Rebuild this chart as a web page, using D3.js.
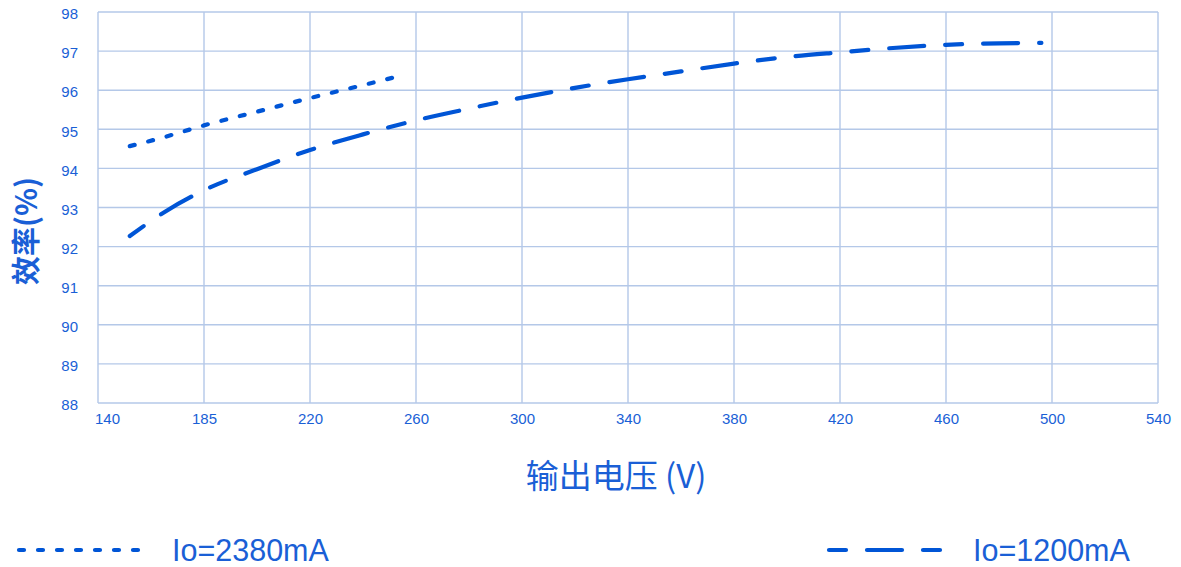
<!DOCTYPE html>
<html><head><meta charset="utf-8">
<script src="https://cdn.jsdelivr.net/npm/d3@7"></script>
<style>
html,body{margin:0;padding:0;background:#fff;}
svg{display:block;}
</style></head>
<body>
<svg id="chart" width="1181" height="567"></svg>
<script>
// ---- data ----
const xTickValues = [140, 180, 220, 260, 300, 340, 380, 420, 460, 500, 540];
const xTickLabels = ["140", "185", "220", "260", "300", "340", "380", "420", "460", "500", "540"];
const yTickValues = [88, 89, 90, 91, 92, 93, 94, 95, 96, 97, 98];

const s2380_x = [152, 165, 180, 200, 220, 240, 253];
const s2380_y = [94.57, 94.80, 95.10, 95.45, 95.80, 96.13, 96.35];

const s1200_x = [152, 165, 180, 200, 220, 240, 260, 280, 300, 320, 340, 360, 380, 400, 420, 440, 460, 480, 496];
const s1200_y = [92.27, 92.88, 93.44, 93.98, 94.47, 94.87, 95.23, 95.53, 95.81, 96.06, 96.28, 96.48, 96.68, 96.85, 96.97, 97.08, 97.16, 97.20, 97.21];

const seriesNames = ["Io=2380mA", "Io=1200mA"];
const xTitle = "输出电压 (V)";
const yTitle = "效率(%)";

// ---- drawing ----
const svg = d3.select("#chart");
const textColor = "#1a5fd6";
const lineColor = "#0055d6";
const gridColor = "#b4c8e8";

const x = d3.scaleLinear().domain([140, 540]).range([98, 1158]);
const y = d3.scaleLinear().domain([88, 98]).range([403, 12]);

// grid
const grid = svg.append("g");
grid.selectAll("line.v").data(xTickValues).join("line")
  .attr("x1", d => x(d)).attr("x2", d => x(d))
  .attr("y1", y(98)).attr("y2", y(88))
  .attr("stroke", gridColor).attr("stroke-width", 1.4);
grid.selectAll("line.h").data(yTickValues).join("line")
  .attr("x1", x(140)).attr("x2", x(540))
  .attr("y1", d => y(d)).attr("y2", d => y(d))
  .attr("stroke", gridColor).attr("stroke-width", 1.4);

// axes (labels only)
const xAxis = d3.axisBottom(x).tickValues(xTickValues)
  .tickFormat((d, i) => xTickLabels[i]).tickSize(0).tickPadding(10);
const gx = svg.append("g").attr("transform", `translate(0,${y(88)})`).call(xAxis);
gx.select(".domain").remove();
gx.selectAll("text").attr("fill", textColor)
  .style("font-family", "'Liberation Sans', Arial, sans-serif").style("font-size", "15px")
  .attr("dx", (d, i) => i === 0 ? 9 : 0);

const yAxis = d3.axisLeft(y).tickValues(yTickValues).tickFormat(d3.format("d")).tickSize(0).tickPadding(20);
const gy = svg.append("g").attr("transform", `translate(${x(140)},0)`).call(yAxis);
gy.select(".domain").remove();
gy.selectAll("text").attr("fill", textColor)
  .style("font-family", "'Liberation Sans', Arial, sans-serif").style("font-size", "15px")
  .attr("dy", "0.45em");

// titles
svg.append("text").attr("x", 616).attr("y", 488).attr("text-anchor", "middle")
  .attr("fill", textColor).style("font-family", "'Noto Sans CJK SC', sans-serif")
  .style("font-size", "33px").text(xTitle);
svg.append("text").attr("transform", "translate(37,231) rotate(-90)").attr("text-anchor", "middle")
  .attr("fill", textColor).style("font-family", "'Noto Sans CJK SC', sans-serif")
  .style("font-size", "29px").style("font-weight", "bold").text(yTitle);

// lines
const line = d3.line().x(d => x(d[0])).y(d => y(d[1])).curve(d3.curveMonotoneX);
const dash2380 = "5,14";
const dash1200 = "17,21,35,21";
svg.append("path").datum(s2380_x.map((v, i) => [v, s2380_y[i]]))
  .attr("d", line).attr("fill", "none").attr("stroke", lineColor)
  .attr("stroke-width", 4.2).attr("stroke-linecap", "round").attr("stroke-dasharray", dash2380);
svg.append("path").datum(s1200_x.map((v, i) => [v, s1200_y[i]]))
  .attr("d", line).attr("fill", "none").attr("stroke", lineColor)
  .attr("stroke-width", 4.2).attr("stroke-linecap", "round").attr("stroke-dasharray", dash1200);

// legend
const legend = svg.append("g");
legend.append("line").attr("x1", 19).attr("x2", 140).attr("y1", 550).attr("y2", 550)
  .attr("stroke", lineColor).attr("stroke-width", 4.2).attr("stroke-linecap", "round")
  .attr("stroke-dasharray", dash2380);
legend.append("text").attr("x", 172).attr("y", 560.5).attr("fill", textColor)
  .style("font-family", "'Liberation Sans', Arial, sans-serif").style("font-size", "30.5px")
  .text(seriesNames[0]);
legend.append("line").attr("x1", 829).attr("x2", 941).attr("y1", 550).attr("y2", 550)
  .attr("stroke", lineColor).attr("stroke-width", 4.2).attr("stroke-linecap", "round")
  .attr("stroke-dasharray", dash1200);
legend.append("text").attr("x", 973).attr("y", 560.5).attr("fill", textColor)
  .style("font-family", "'Liberation Sans', Arial, sans-serif").style("font-size", "30.5px")
  .text(seriesNames[1]);
</script>
</body></html>
